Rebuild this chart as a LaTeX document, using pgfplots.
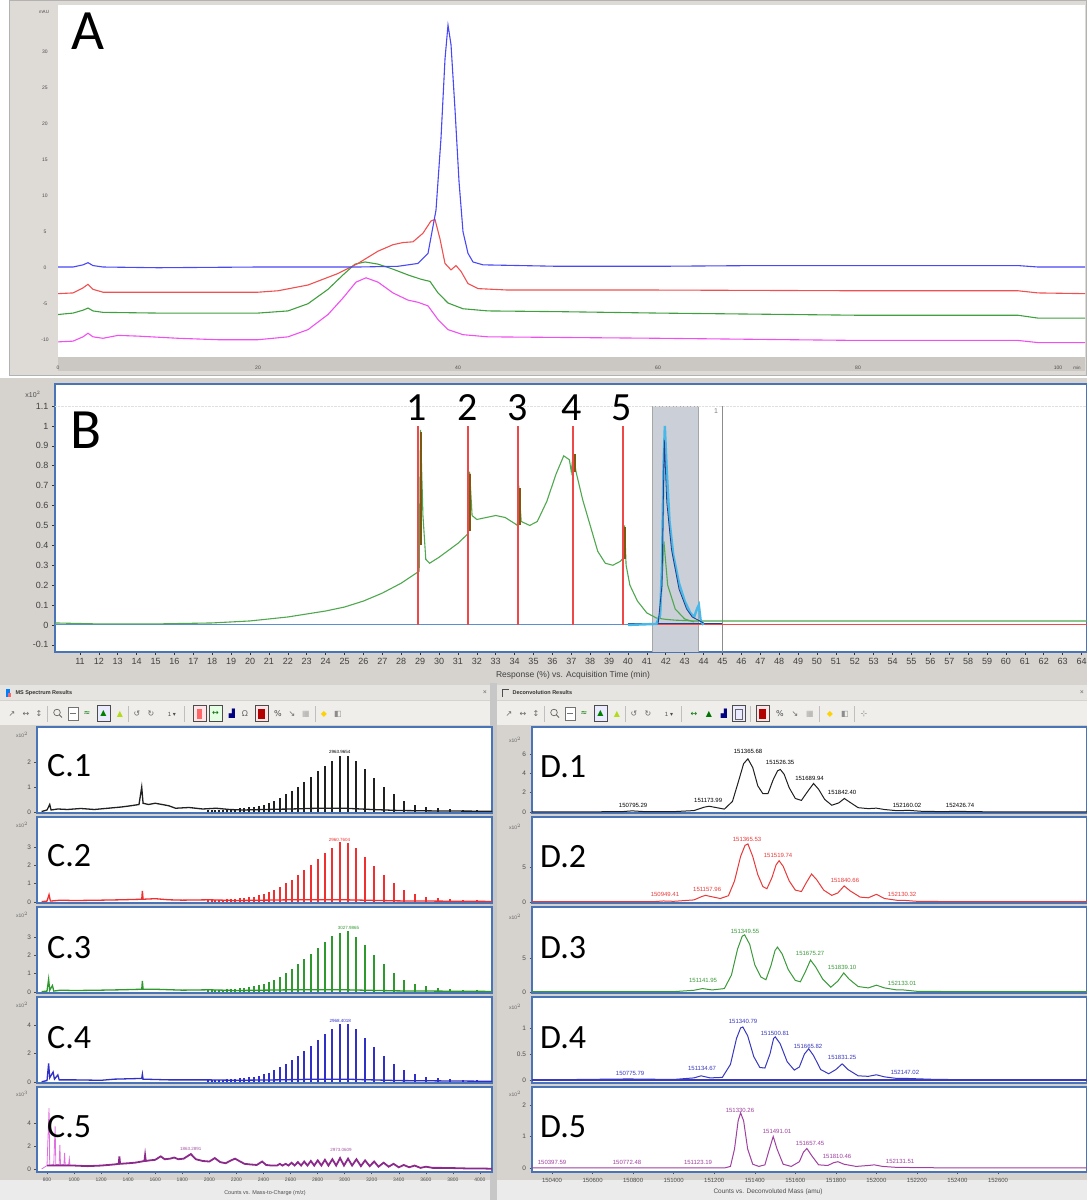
\documentclass[border=0pt]{standalone}
\usepackage{pgfplots}
\usepackage{pgfplotstable}
\pgfplotsset{compat=1.18}
\usepackage{fontspec}
\setmainfont{Liberation Sans}
\newfontfamily\calfont{Carlito}
\newfontfamily\djv{DejaVu Sans}
\definecolor{winbg}{HTML}{D6D3CE}
\definecolor{panelA}{HTML}{DEDBD6}
\definecolor{bandA}{HTML}{CBC7C2}
\definecolor{frameblue}{HTML}{4A74B8}
\definecolor{toolbg}{HTML}{EFEEEB}
\definecolor{hdrbg}{HTML}{E6E4E0}
\definecolor{aBlue}{HTML}{4848F8}
\definecolor{aRed}{HTML}{F05050}
\definecolor{aGreen}{HTML}{40A040}
\definecolor{aMag}{HTML}{F050F0}
\definecolor{bGreen}{HTML}{4FA84F}
\definecolor{bRed}{HTML}{EE4848}
\definecolor{bBrown}{HTML}{7A5A10}
\definecolor{bCyan}{HTML}{48B8E8}
\definecolor{bDBlue}{HTML}{283C8C}
\definecolor{bBlue}{HTML}{5A8FD0}
\definecolor{shade}{HTML}{CACFD8}
\definecolor{cBlack}{HTML}{202020}
\definecolor{cRed}{HTML}{F03030}
\definecolor{cGreen}{HTML}{2E9A2E}
\definecolor{cBlue}{HTML}{3030C8}
\definecolor{cPurple}{HTML}{8C2A8C}
\definecolor{cPink}{HTML}{E070E0}
\definecolor{dRed}{HTML}{E83A3A}
\definecolor{dGreen}{HTML}{3A9A3A}
\definecolor{dBlue}{HTML}{3838C0}
\definecolor{dPurple}{HTML}{A040A0}

\pgfplotstableread{
mz h1 h2 h3 h4
1990 0.07 0.10 0.10 0.12
2017 0.07 0.10 0.10 0.12
2044 0.08 0.11 0.12 0.14
2072 0.08 0.11 0.12 0.14
2101 0.09 0.13 0.13 0.16
2131 0.10 0.15 0.15 0.18
2161 0.11 0.16 0.17 0.21
2192 0.12 0.18 0.18 0.23
2225 0.14 0.20 0.20 0.25
2258 0.16 0.23 0.23 0.29
2292 0.18 0.26 0.27 0.33
2327 0.20 0.29 0.30 0.37
2364 0.25 0.36 0.37 0.45
2401 0.29 0.42 0.44 0.53
2440 0.36 0.52 0.54 0.66
2480 0.45 0.65 0.67 0.82
2521 0.56 0.81 0.84 1.03
2564 0.70 1.01 1.04 1.27
2608 0.83 1.20 1.24 1.52
2654 1.01 1.46 1.51 1.85
2701 1.19 1.72 1.78 2.17
2750 1.40 2.02 2.08 2.54
2801 1.62 2.34 2.41 2.95
2854 1.85 2.67 2.75 3.36
2909 2.05 2.96 3.05 3.73
2966 2.25 3.25 3.20 4.10
3025 2.23 3.22 3.35 4.06
3087 2.03 2.93 3.02 3.69
3151 1.71 2.47 2.55 3.12
3218 1.35 1.95 2.01 2.46
3288 1.01 1.46 1.51 1.85
3361 0.70 1.01 1.04 1.27
3437 0.45 0.65 0.67 0.82
3517 0.29 0.42 0.44 0.53
3601 0.20 0.29 0.30 0.37
3689 0.14 0.20 0.20 0.25
3781 0.10 0.15 0.15 0.18
3878 0.08 0.11 0.12 0.14
3980 0.07 0.10 0.10 0.12
4087 0.05 0.07 0.07 0.08
}\cpeaks

\pgfplotsset{
 cpanel/.style={anchor=south west, scale only axis, width=455pt, height=86pt,
   xmin=726, xmax=4089, axis line style={draw=frameblue, line width=1.2pt},
   axis background/.style={fill=white}, xtick=\empty, tick pos=left,
   tick align=outside, major tick length=2.5pt, tick style={black!70, line width=0.5pt},
   yticklabel style={font=\fontsize{6.5}{6.5}\selectfont, text=black!70},
   scaled ticks=false,
   /pgf/number format/assume math mode=true, clip=true},
 dpanel/.style={anchor=south west, scale only axis, width=555pt, height=86pt,
   xmin=150301, xmax=153039, axis line style={draw=frameblue, line width=1.2pt},
   axis background/.style={fill=white}, xtick=\empty, tick pos=left,
   tick align=outside, major tick length=2.5pt, tick style={black!70, line width=0.5pt},
   yticklabel style={font=\fontsize{6.5}{6.5}\selectfont, text=black!70},
   scaled ticks=false,
   /pgf/number format/assume math mode=true, clip=true},
}
\tikzset{tb/.style={font=\djv\fontsize{8}{8}\selectfont, text=black!60, inner sep=0pt},
 dlab/.style={font=\fontsize{6}{6}\selectfont, inner sep=0pt},
 clab/.style={font=\fontsize{4.5}{4.5}\selectfont, inner sep=0.5pt}}

\newcommand{\toolbar}[1]{%
\begin{scope}[xshift=#1pt]
 \node[tb] at (12,486) {↗};
 \node[tb] at (26,486) {↔};
 \node[tb] at (39,486) {↕};
 \draw[black!25] (47,478)--(47,494);
 \draw[black!60, line width=0.7pt] (57,487.5) circle (3.3); \draw[black!60, line width=1pt] (59.5,485)--(62,482.5);
 \draw[black!55, fill=white] (68,480) rectangle (78,493); \draw[black!55] (70,486.5)--(76,486.5);
 \node[tb, text=green!45!black] at (87,486) {≈};
 \draw[black!70, fill=blue!8] (97,478.5) rectangle (110,494.5);
 \node[tb, text=green!50!black] at (103.5,486.5) {▲};
 \node[tb, text=yellow!70!green] at (120,486) {▲};
 \draw[black!25] (128,478)--(128,494);
 \node[tb] at (137,486) {↺};
 \node[tb] at (151,486) {↻};
 \node[font=\fontsize{6}{6}\selectfont, text=black!70] at (172,486) {1 \djv▾};
 \draw[black!25] (184,478)--(184,494);
\end{scope}}

\begin{document}
\begin{tikzpicture}[x=1pt,y=1pt]
\useasboundingbox (0,0) rectangle (1087,1200);
\fill[white] (0,0) rectangle (1087,1200);
% ---------- panel A frame
\fill[panelA] (9,824) rectangle (1087,1199);
\draw[black!30] (9.5,824.5) rectangle (1086.5,1199.5);
\fill[bandA] (58,829) rectangle (1085,843);
% ---------- panel B and lower backgrounds
\fill[winbg] (0,517) rectangle (1087,822);
\fill[winbg] (0,0) rectangle (1087,517);
\fill[hdrbg] (0,500) rectangle (490,515);
\fill[hdrbg] (497,500) rectangle (1087,515);
\fill[toolbg] (0,475) rectangle (490,499);
\fill[toolbg] (497,475) rectangle (1087,499);
\fill[black!22] (490,0) rectangle (497,517);
\fill[white!92!black] (0,0) rectangle (490,20);
\fill[white!92!black] (497,0) rectangle (1087,20);

% ================= PANEL A =================
\begin{axis}[at={(58pt,843pt)}, anchor=south west, scale only axis, width=1027pt, height=352pt,
  xmin=0, xmax=102.7, ymin=-12.4, ymax=36.5,
  axis line style={draw=none}, axis background/.style={fill=white},
  xtick={0,20,40,60,80,100}, ytick={-10,-5,0,5,10,15,20,25,30},
  major tick length=0pt,
  tick label style={font=\fontsize{5}{5}\selectfont, text=black!70},
  xticklabel style={anchor=center, yshift=-11pt},
  yticklabel style={anchor=center, xshift=-13pt},
  /pgf/number format/assume math mode=true, clip=true]
\addplot[aMag, line width=1.1pt] coordinates {(0,-10.3)(1.5,-10.2)(2.5,-9.6)(3,-9.1)(3.5,-9.6)(4.5,-9.8)(6,-9.4)(8,-9.5)(12,-9.8)(16,-10.0)(20,-10.0)(23,-9.6)(25,-8.6)(27,-6.5)(28.5,-4.2)(29.8,-2.0)(30.8,-1.4)(32,-2.0)(33.5,-3.5)(35,-4.5)(36,-4.8)(37,-5.3)(38,-7.2)(39,-8.6)(40.5,-9.3)(43,-9.6)(60,-9.8)(80,-10.1)(96,-10.1)(98,-10.4)(102.7,-10.4)};
\addplot[aGreen, line width=1.1pt] coordinates {(0,-6.5)(1.5,-6.3)(2.5,-5.9)(3,-5.6)(3.5,-6.0)(4.5,-6.2)(10,-6.3)(20,-6.3)(23,-6.0)(25,-5.0)(27,-3.0)(28.5,-1.0)(29.7,0.5)(30.7,0.8)(32,0.5)(33.5,-0.2)(35,-1.0)(36.3,-1.6)(37.2,-1.9)(38,-3.5)(39,-4.9)(40.5,-5.7)(43,-6.0)(50,-6.1)(60,-6.3)(80,-6.6)(96,-6.6)(98,-7.0)(102.7,-7.0)};
\addplot[aRed, line width=1.1pt] coordinates {(0,-3.6)(1.5,-3.5)(2.5,-2.8)(3,-2.3)(3.5,-3.0)(4.5,-3.4)(10,-3.4)(20,-3.4)(22,-3.2)(25,-2.4)(28,-0.8)(30,0.6)(32,2.3)(33.5,3.2)(34.5,3.5)(35.5,3.6)(36.5,4.8)(37.3,6.5)(37.7,6.7)(38.2,4)(38.7,0.6)(39.3,-0.3)(39.8,0.3)(40.3,-0.5)(41,-2.2)(42,-2.9)(45,-3.1)(60,-3.1)(80,-3.2)(96,-3.2)(98,-3.5)(102.7,-3.6)};
\addplot[aBlue, line width=1.1pt] coordinates {(0,0.1)(1.5,0.1)(2.5,0.4)(3,0.7)(3.5,0.3)(4.5,0.1)(10,0)(20,0.1)(30,0.1)(34,0.2)(36,0.6)(37,2)(37.8,8)(38.3,18)(38.7,29)(39.0,33.7)(39.3,31)(39.7,22)(40.1,12)(40.5,5)(41,2)(41.5,0.8)(42.5,0.4)(50,0.2)(60,0.2)(70,0.3)(80,0.3)(96,0.3)(98,0.1)(102.7,0.1)};
\end{axis}
\node[font=\calfont\fontsize{57}{57}\selectfont, inner sep=0pt] at (88,1169) {A};
\node[font=\fontsize{4.5}{4.5}\selectfont, text=black!70] at (44,1188) {mAU};
\node[font=\fontsize{4.5}{4.5}\selectfont, text=black!70] at (1077,832) {min};

% ================= PANEL B =================
\begin{axis}[at={(55pt,548pt)}, anchor=south west, scale only axis, width=1032pt, height=268pt,
  xmin=9.68, xmax=64.29, ymin=-0.136, ymax=1.211,
  axis line style={draw=frameblue, line width=1.6pt}, axis background/.style={fill=white},
  xtick={11,...,64},
  ytick={-0.1,0,0.1,0.2,0.3,0.4,0.5,0.6,0.7,0.8,0.9,1,1.1},
  yticklabels={-0.1,0,0.1,0.2,0.3,0.4,0.5,0.6,0.7,0.8,0.9,1,1.1},
  tick pos=left, tick align=outside, major tick length=3pt,
  tick style={black!80, line width=0.6pt},
  tick label style={font=\fontsize{9}{9}\selectfont, text=black!75},
  /pgf/number format/assume math mode=true, clip=true]
\addplot[fill=shade, draw=black!35, line width=0.6pt] coordinates {(41.3,-0.2)(41.3,1.1)(43.7,1.1)(43.7,-0.2)(41.3,-0.2)};
\addplot[black!12, densely dotted] coordinates {(9.68,1.1)(64.29,1.1)};
\addplot[black!45, line width=0.8pt] coordinates {(45,-0.2)(45,1.1)};
\addplot[bBlue, line width=1pt] coordinates {(9.68,0)(40,0)};
\addplot[bRed, line width=1pt] coordinates {(40,0)(64.29,0)};
\addplot[bDBlue, line width=1pt] coordinates {(40,0.006)(45,0.006)};
\addplot[bGreen, line width=1.1pt] coordinates {(9.68,0.01)(12,0.005)(15,0.005)(18,0.01)(20,0.02)(22,0.04)(24,0.07)(25,0.09)(26,0.12)(27,0.16)(28,0.21)(28.95,0.27)(29.02,0.98)(29.15,0.55)(29.3,0.33)(29.5,0.31)(30,0.34)(31,0.41)(31.55,0.46)(31.62,0.77)(31.75,0.55)(32,0.53)(32.5,0.54)(33,0.55)(33.5,0.54)(34,0.51)(34.15,0.5)(34.22,0.70)(34.35,0.52)(34.8,0.5)(35.2,0.52)(35.7,0.62)(36.2,0.76)(36.6,0.85)(36.9,0.83)(37.0,0.77)(37.1,0.86)(37.25,0.77)(37.6,0.63)(38.0,0.5)(38.4,0.37)(38.8,0.31)(39.2,0.30)(39.6,0.32)(39.78,0.34)(39.82,0.50)(39.9,0.3)(40.1,0.2)(40.5,0.12)(41,0.06)(41.5,0.035)(42,0.028)(42.5,0.024)(43.5,0.02)(45,0.02)(55,0.02)(64.29,0.02)};
\addplot[bGreen, line width=1.1pt] coordinates {(41.7,0.03)(41.9,0.42)(42.1,0.2)(42.5,0.08)(43,0.03)(43.5,0.015)};
\addplot[bCyan, line width=2.4pt] coordinates {(40,0.0)(41.5,0.005)(41.7,0.05)(41.8,0.3)(41.88,0.8)(41.95,1.0)(42.05,0.78)(42.2,0.52)(42.4,0.35)(42.7,0.21)(43,0.12)(43.3,0.06)(43.5,0.04)(43.65,0.08)(43.75,0.1)(43.85,0.02)(44,0.0)};
\addplot[bDBlue, line width=0.8pt] coordinates {(41.6,0.01)(41.8,0.2)(41.92,0.93)(42.05,0.62)(42.3,0.38)(42.7,0.18)(43.1,0.08)(43.4,0.04)(43.6,0.03)(44,0.01)};
\addplot[bRed, line width=1.8pt] coordinates {(28.9,0)(28.9,1.0)};
\addplot[bRed, line width=1.8pt] coordinates {(31.55,0)(31.55,1.0)};
\addplot[bRed, line width=1.8pt] coordinates {(34.2,0)(34.2,1.0)};
\addplot[bRed, line width=1.8pt] coordinates {(37.1,0)(37.1,1.0)};
\addplot[bRed, line width=1.8pt] coordinates {(39.72,0)(39.72,1.0)};
\addplot[bBrown, line width=2pt] coordinates {(29.03,0.40)(29.03,0.97)};
\addplot[bBrown, line width=2pt] coordinates {(31.65,0.47)(31.65,0.76)};
\addplot[bBrown, line width=2pt] coordinates {(34.28,0.50)(34.28,0.69)};
\addplot[bBrown, line width=2pt] coordinates {(37.2,0.77)(37.2,0.86)};
\addplot[bBrown, line width=2pt] coordinates {(39.82,0.33)(39.82,0.49)};
\end{axis}
\node[font=\fontsize{7}{7}\selectfont, text=black!70] at (33,806) {x10$^{2}$};
\node[font=\calfont\fontsize{57}{57}\selectfont, inner sep=0pt] at (86,770) {B};
\foreach \x/\t in {417/1,468/2,518/3,572/4,622/5}{\node[font=\calfont\fontsize{40}{40}\selectfont, inner sep=0pt] at (\x,792) {\t};}
\node[font=\fontsize{7}{7}\selectfont, text=black!50] at (716,789) {1};
\node[font=\fontsize{8.5}{8.5}\selectfont, text=black!75] at (573,525) {Response (\%) vs. Acquisition Time (min)};

% ================= headers and toolbars
\fill[blue!50!cyan] (6,503) rectangle (10,511); \fill[red!60] (8,503) rectangle (11,507);
\node[font=\fontsize{5.5}{5.5}\selectfont\bfseries, text=black!80, anchor=west] at (12,507) {MS Spectrum Results};
\node[font=\fontsize{7}{7}\selectfont, text=black!60] at (485,507) {×};
\draw[black!70] (502,503)--(502,511)--(509,511);
\node[font=\fontsize{5.5}{5.5}\selectfont\bfseries, text=black!80, anchor=west] at (509,507) {Deconvolution Results};
\node[font=\fontsize{7}{7}\selectfont, text=black!60] at (1082,507) {×};
\toolbar{0}
\begin{scope}[xshift=0pt]
 \draw[black!70, fill=red!10] (193,478.5) rectangle (206,494.5); \fill[red!60] (197,481) rectangle (202,491);
 \draw[black!70, fill=green!10] (209,478.5) rectangle (222,494.5); \node[tb,text=green!40!black] at (215.5,486.5) {↔};
 \node[tb, text=blue!50!black] at (232,486) {▟};
 \node[tb] at (245,486) {Ω};
 \draw[black!70, fill=red!10] (255,478.5) rectangle (268,494.5); \fill[red!70!black] (258,481) rectangle (265,491);
 \node[tb, text=black!70] at (278,486) {\%};
 \node[tb] at (292,486) {↘};
 \node[tb, text=black!35] at (306,486) {▦};
 \draw[black!25] (315,478)--(315,494);
 \node[tb, text=yellow!70!orange] at (324,486) {◆};
 \node[tb, text=black!45] at (338,486) {◧};
\end{scope}
\toolbar{497}
\begin{scope}[xshift=497pt]
 \node[tb,text=green!45!black] at (197,486) {↔};
 \node[tb,text=green!45!black] at (212,486) {▲};
 \node[tb, text=blue!50!black] at (227,486) {▟};
 \draw[black!70, fill=blue!8] (235,478.5) rectangle (248,494.5); \draw[black!60] (238,481) rectangle (245,491);
 \draw[black!25] (253,478)--(253,494);
 \draw[black!70, fill=red!10] (259,478.5) rectangle (272,494.5); \fill[red!70!black] (262,481) rectangle (269,491);
 \node[tb, text=black!70] at (283,486) {\%};
 \node[tb] at (298,486) {↘};
 \node[tb, text=black!35] at (313,486) {▦};
 \draw[black!25] (322,478)--(322,494);
 \node[tb, text=yellow!70!orange] at (333,486) {◆};
 \node[tb, text=black!45] at (348,486) {◧};
 \draw[black!25] (357,478)--(357,494);
 \node[tb, text=black!45] at (367,486) {⊹};
\end{scope}

% ================= C panels =================
\begin{axis}[cpanel, at={(37pt,387pt)}, ymin=-0.04, ymax=3.4, ytick={0,1,2}]
\addplot[cBlack, line width=1.3pt] coordinates {(760,0.02)(800,0.08)(820,0.3)(830,0.08)(880,0.12)(950,0.1)(1050,0.14)(1150,0.1)(1250,0.15)(1350,0.2)(1420,0.25)(1480,0.3)(1500,1.0)(1510,0.35)(1550,0.3)(1600,0.35)(1650,0.3)(1700,0.25)(1750,0.15)(1850,0.18)(1950,0.12)(2050,0.15)(2150,0.1)(2250,0.08)(2400,0.1)(2600,0.12)(2800,0.15)(3000,0.15)(3200,0.1)(3400,0.06)(3700,0.04)(4089,0.03)};
\addplot[ycomb, cBlack, line width=2pt] table[x=mz,y=h1]{\cpeaks};
\node[clab, anchor=south] at (axis cs:2964,2.3) {2963.9654};
\end{axis}
\begin{axis}[cpanel, at={(37pt,297pt)}, ymin=-0.055, ymax=4.64, ytick={0,1,2,3}]
\addplot[cRed, line width=1.3pt] coordinates {(760,0.02)(800,0.05)(815,0.4)(825,0.05)(900,0.1)(1000,0.08)(1200,0.1)(1350,0.12)(1500,0.15)(1505,0.6)(1510,0.15)(1600,0.18)(1700,0.12)(1800,0.1)(2000,0.12)(2200,0.08)(2400,0.1)(2600,0.12)(2800,0.12)(3000,0.12)(3400,0.06)(4089,0.03)};
\addplot[ycomb, cRed, line width=2pt] table[x=mz,y=h2]{\cpeaks};
\node[clab, anchor=south, text=cRed] at (axis cs:2961,3.28) {2960.7604};
\end{axis}
\begin{axis}[cpanel, at={(37pt,207pt)}, ymin=-0.055, ymax=4.64, ytick={0,1,2,3}]
\addplot[cGreen, line width=1.3pt] coordinates {(760,0.02)(800,0.05)(812,0.7)(820,0.1)(840,0.35)(850,0.05)(900,0.1)(1000,0.08)(1200,0.1)(1350,0.12)(1500,0.15)(1505,0.6)(1510,0.15)(1600,0.15)(1800,0.1)(2000,0.12)(2200,0.08)(2400,0.1)(2600,0.12)(2800,0.12)(3000,0.12)(3400,0.06)(4089,0.03)};
\addplot[ycomb, cGreen, line width=2pt] table[x=mz,y=h3]{\cpeaks};
\node[clab, anchor=south, text=cGreen] at (axis cs:3028,3.38) {3027.9865};
\end{axis}
\begin{axis}[cpanel, at={(37pt,117pt)}, ymin=-0.07, ymax=5.965, ytick={0,2,4}]
\addplot[cBlue, line width=1.3pt] coordinates {(760,0.02)(800,0.1)(812,1.3)(820,0.3)(845,0.7)(855,0.2)(880,0.5)(890,0.15)(1000,0.15)(1200,0.12)(1300,0.2)(1500,0.25)(1505,0.55)(1510,0.2)(1700,0.15)(2000,0.15)(2200,0.12)(2500,0.15)(2800,0.2)(3000,0.2)(3400,0.1)(4089,0.05)};
\addplot[ycomb, cBlue, line width=2pt] table[x=mz,y=h4]{\cpeaks};
\node[clab, anchor=south, text=cBlue] at (axis cs:2968,4.15) {2968.4018};
\end{axis}
\begin{axis}[cpanel, at={(37pt,28pt)}, height=85pt, ymin=-0.26, ymax=7.13, ytick={0,2,4},
  xtick={800,1000,...,4000}, xticklabel style={font=\fontsize{5}{5}\selectfont, text=black!70},
  xticklabels={800,1000,1200,1400,1600,1800,2000,2200,2400,2600,2800,3000,3200,3400,3600,3800,4000}]
\addplot[cPink, line width=0.8pt] coordinates {(760,0)(800,0.3)(815,5.3)(820,0.3)(850,0.4)(860,3.7)(865,0.4)(890,0.4)(895,2.1)(900,0.35)(925,0.4)(930,1.4)(935,0.3)(960,0.4)(965,0.9)(970,0.3)(1000,0.3)};
\addplot[cPurple, line width=1.8pt] coordinates {(800,0.3)(900,0.3)(1000,0.3)(1100,0.25)(1200,0.3)(1300,0.4)(1330,0.45)(1335,1.1)(1340,0.45)(1400,0.5)(1450,0.55)(1500,0.65)(1520,0.7)(1525,1.2)(1530,0.7)(1560,0.75)(1600,0.8)(1640,1.1)(1670,0.85)(1710,0.9)(1740,1.0)(1770,0.85)(1810,0.9)(1863,1.3)(1900,0.85)(1950,0.7)(2000,0.65)(2040,0.95)(2080,0.6)(2120,0.5)(2160,0.75)(2190,0.9)(2220,0.7)(2260,0.45)(2300,0.4)(2350,0.35)(2390,0.65)(2420,0.35)(2460,0.3)(2500,0.3)(2521,0.45)(2540,0.3)(2564,0.45)(2585,0.3)(2608,0.55)(2630,0.3)(2654,0.6)(2678,0.3)(2701,0.65)(2725,0.3)(2750,0.7)(2775,0.3)(2801,0.75)(2828,0.3)(2854,0.8)(2880,0.3)(2909,0.85)(2937,0.3)(2966,0.95)(2995,0.3)(3025,0.9)(3055,0.3)(3087,0.85)(3120,0.25)(3151,0.75)(3185,0.25)(3218,0.65)(3250,0.2)(3288,0.55)(3325,0.2)(3361,0.45)(3400,0.15)(3437,0.35)(3477,0.15)(3517,0.3)(3560,0.1)(3601,0.2)(3650,0.1)(3700,0.1)(3800,0.08)(3900,0.05)(4000,0.05)(4089,0.02)};
\node[clab, text=cPurple!80] at (axis cs:1863,1.75) {1863.2891};
\node[clab, text=cPurple!80] at (axis cs:2973,1.65) {2973.0609};
\end{axis}
\node[font=\fontsize{5.5}{5.5}\selectfont, text=black!70] at (265,7) {Counts vs. Mass-to-Charge (m/z)};

% ================= D panels =================
\begin{axis}[dpanel, at={(532pt,387pt)}, ymin=-0.1, ymax=8.79, ytick={0,2,4,6}]
\addplot[cBlack, line width=1pt] coordinates {(150301,0.02)(150600,0.02)(150750,0.05)(150795,0.12)(150850,0.05)(151000,0.04)(151100,0.15)(151150,0.5)(151174,0.6)(151200,0.5)(151250,0.3)(151290,1.1)(151320,3.2)(151345,5.0)(151366,5.5)(151390,4.6)(151415,2.7)(151440,1.9)(151465,1.9)(151490,3.3)(151512,4.25)(151526,4.4)(151545,3.9)(151570,2.5)(151600,1.4)(151630,1.2)(151660,2.1)(151690,2.95)(151715,2.35)(151745,1.3)(151780,0.7)(151815,0.95)(151842,1.4)(151870,1.0)(151910,0.45)(151960,0.35)(152000,0.4)(152040,0.26)(152100,0.14)(152160,0.17)(152220,0.08)(152300,0.05)(152427,0.06)(152550,0.02)(153039,0.02)};
\node[dlab] at (axis cs:150800,0.7) {150795.29};
\node[dlab] at (axis cs:151170,1.15) {151173.99};
\node[dlab] at (axis cs:151367,6.3) {151365.68};
\node[dlab] at (axis cs:151525,5.15) {151526.35};
\node[dlab] at (axis cs:151670,3.5) {151689.94};
\node[dlab] at (axis cs:151831,2.05) {151842.40};
\node[dlab] at (axis cs:152151,0.65) {152160.02};
\node[dlab] at (axis cs:152413,0.65) {152426.74};
\end{axis}
\begin{axis}[dpanel, at={(532pt,297pt)}, ymin=-0.14, ymax=12.14, ytick={0,5}]
\addplot[dRed, line width=1pt] coordinates {(150301,0.05)(150900,0.05)(150949,0.15)(151000,0.1)(151100,0.3)(151140,0.8)(151158,0.95)(151180,0.8)(151230,0.5)(151270,0.9)(151300,3.0)(151330,6.5)(151352,8.1)(151366,8.3)(151390,6.5)(151415,3.9)(151440,2.2)(151460,1.9)(151485,3.5)(151505,5.3)(151520,5.9)(151540,5.1)(151570,3.0)(151600,1.7)(151630,1.5)(151655,2.8)(151680,4.0)(151705,3.2)(151740,1.7)(151780,0.95)(151810,1.3)(151841,2.3)(151870,1.6)(151920,0.7)(151960,0.6)(152000,1.1)(152040,0.5)(152100,0.25)(152130,0.25)(152200,0.1)(152400,0.05)(153039,0.05)};
\node[dlab, text=dRed] at (axis cs:150957,1.14) {150949.41};
\node[dlab, text=dRed] at (axis cs:151165,1.86) {151157.96};
\node[dlab, text=dRed] at (axis cs:151362,8.9) {151365.53};
\node[dlab, text=dRed] at (axis cs:151515,6.6) {151519.74};
\node[dlab, text=dRed] at (axis cs:151845,3.14) {151840.66};
\node[dlab, text=dRed] at (axis cs:152127,1.14) {152130.32};
\end{axis}
\begin{axis}[dpanel, at={(532pt,207pt)}, ymin=-0.15, ymax=12.5, ytick={0,5}]
\addplot[dGreen, line width=1pt] coordinates {(150301,0.05)(151000,0.05)(151100,0.25)(151142,0.5)(151190,0.3)(151250,0.5)(151285,2.5)(151315,6.3)(151338,8.2)(151350,8.4)(151375,7.0)(151400,4.0)(151430,2.2)(151455,1.8)(151480,3.9)(151500,6.1)(151512,6.6)(151535,5.6)(151565,3.3)(151600,1.7)(151625,1.5)(151650,3.0)(151675,4.7)(151700,3.7)(151735,1.9)(151775,0.7)(151810,1.6)(151839,2.8)(151865,1.9)(151910,0.8)(151960,0.6)(152000,1.0)(152040,0.6)(152100,0.3)(152133,0.3)(152200,0.1)(152400,0.05)(153039,0.05)};
\node[dlab, text=dGreen] at (axis cs:151145,1.76) {151141.95};
\node[dlab, text=dGreen] at (axis cs:151352,8.9) {151349.55};
\node[dlab, text=dGreen] at (axis cs:151673,5.74) {151675.27};
\node[dlab, text=dGreen] at (axis cs:151831,3.68) {151839.10};
\node[dlab, text=dGreen] at (axis cs:152127,1.32) {152133.01};
\end{axis}
\begin{axis}[dpanel, at={(532pt,117pt)}, ymin=-0.058, ymax=1.596, ytick={0,0.5,1}, yticklabels={0,0.5,1}]
\addplot[dBlue, line width=1.6pt] coordinates {(150301,0)(153039,0)};
\addplot[dBlue, line width=1pt] coordinates {(150301,0.0)(150776,0.02)(151000,0.01)(151100,0.04)(151135,0.08)(151180,0.04)(151240,0.05)(151280,0.3)(151310,0.8)(151330,1.0)(151341,1.02)(151365,0.85)(151395,0.45)(151425,0.24)(151450,0.23)(151475,0.5)(151493,0.8)(151501,0.83)(151525,0.7)(151560,0.35)(151595,0.19)(151620,0.25)(151645,0.5)(151666,0.6)(151690,0.47)(151725,0.2)(151765,0.12)(151800,0.2)(151831,0.31)(151860,0.2)(151910,0.08)(151960,0.07)(152000,0.1)(152040,0.06)(152100,0.03)(152147,0.03)(152300,0.01)(153039,0.0)};
\node[dlab, text=dBlue] at (axis cs:150785,0.135) {150775.79};
\node[dlab, text=dBlue] at (axis cs:151140,0.23) {151134.67};
\node[dlab, text=dBlue] at (axis cs:151342,1.13) {151340.79};
\node[dlab, text=dBlue] at (axis cs:151500,0.9) {151500.81};
\node[dlab, text=dBlue] at (axis cs:151663,0.65) {151665.82};
\node[dlab, text=dBlue] at (axis cs:151831,0.44) {151831.25};
\node[dlab, text=dBlue] at (axis cs:152141,0.15) {152147.02};
\end{axis}
\begin{axis}[dpanel, at={(532pt,28pt)}, height=85pt, ymin=-0.127, ymax=2.571, ytick={0,1,2},
  xtick={150400,150600,150800,151000,151200,151400,151600,151800,152000,152200,152400,152600},
  xticklabels={150400,150600,150800,151000,151200,151400,151600,151800,152000,152200,152400,152600},
  xticklabel style={font=\fontsize{6}{6}\selectfont, text=black!70}]
\addplot[dPurple, line width=1pt] coordinates {(150301,0.0)(151250,0.0)(151280,0.05)(151300,0.6)(151318,1.5)(151330,1.75)(151345,1.5)(151365,0.6)(151390,0.12)(151420,0.05)(151450,0.1)(151470,0.55)(151491,1.0)(151510,0.6)(151540,0.12)(151580,0.05)(151620,0.2)(151640,0.5)(151657,0.62)(151680,0.4)(151715,0.1)(151760,0.08)(151790,0.17)(151810,0.2)(151840,0.12)(151900,0.05)(151960,0.08)(151990,0.1)(152030,0.05)(152100,0.02)(152400,0.0)(153039,0.0)};
\node[dlab, text=dPurple] at (axis cs:150400,0.19) {150397.59};
\node[dlab, text=dPurple] at (axis cs:150770,0.19) {150772.48};
\node[dlab, text=dPurple] at (axis cs:151120,0.19) {151123.19};
\node[dlab, text=dPurple] at (axis cs:151327,1.84) {151330.26};
\node[dlab, text=dPurple] at (axis cs:151510,1.17) {151491.01};
\node[dlab, text=dPurple] at (axis cs:151673,0.79) {151657.45};
\node[dlab, text=dPurple] at (axis cs:151806,0.38) {151810.46};
\node[dlab, text=dPurple] at (axis cs:152117,0.22) {152131.51};
\end{axis}
\node[font=\fontsize{6.5}{6.5}\selectfont, text=black!70] at (768,8) {Counts vs. Deconvoluted Mass (amu)};

% ---- exponent labels and panel names
\foreach \y in {465,375,285,195}{\node[font=\fontsize{5}{5}\selectfont, text=black!60] at (22,\y) {x10$^{2}$};}
\node[font=\fontsize{5}{5}\selectfont, text=black!60] at (22,106) {x10$^{3}$};
\foreach \y in {460,373,283,193,106}{\node[font=\fontsize{5}{5}\selectfont, text=black!60] at (515,\y) {x10$^{2}$};}
\foreach \y/\t in {434/C.1,344/C.2,252/C.3,162/C.4,73/C.5}{\node[font=\calfont\fontsize{34}{34}\selectfont, inner sep=0pt, anchor=west] at (47,\y) {\t};}
\foreach \y/\t in {433/D.1,343/D.2,252/D.3,162/D.4,73/D.5}{\node[font=\calfont\fontsize{34}{34}\selectfont, inner sep=0pt, anchor=west] at (540,\y) {\t};}
\end{tikzpicture}
\end{document}
